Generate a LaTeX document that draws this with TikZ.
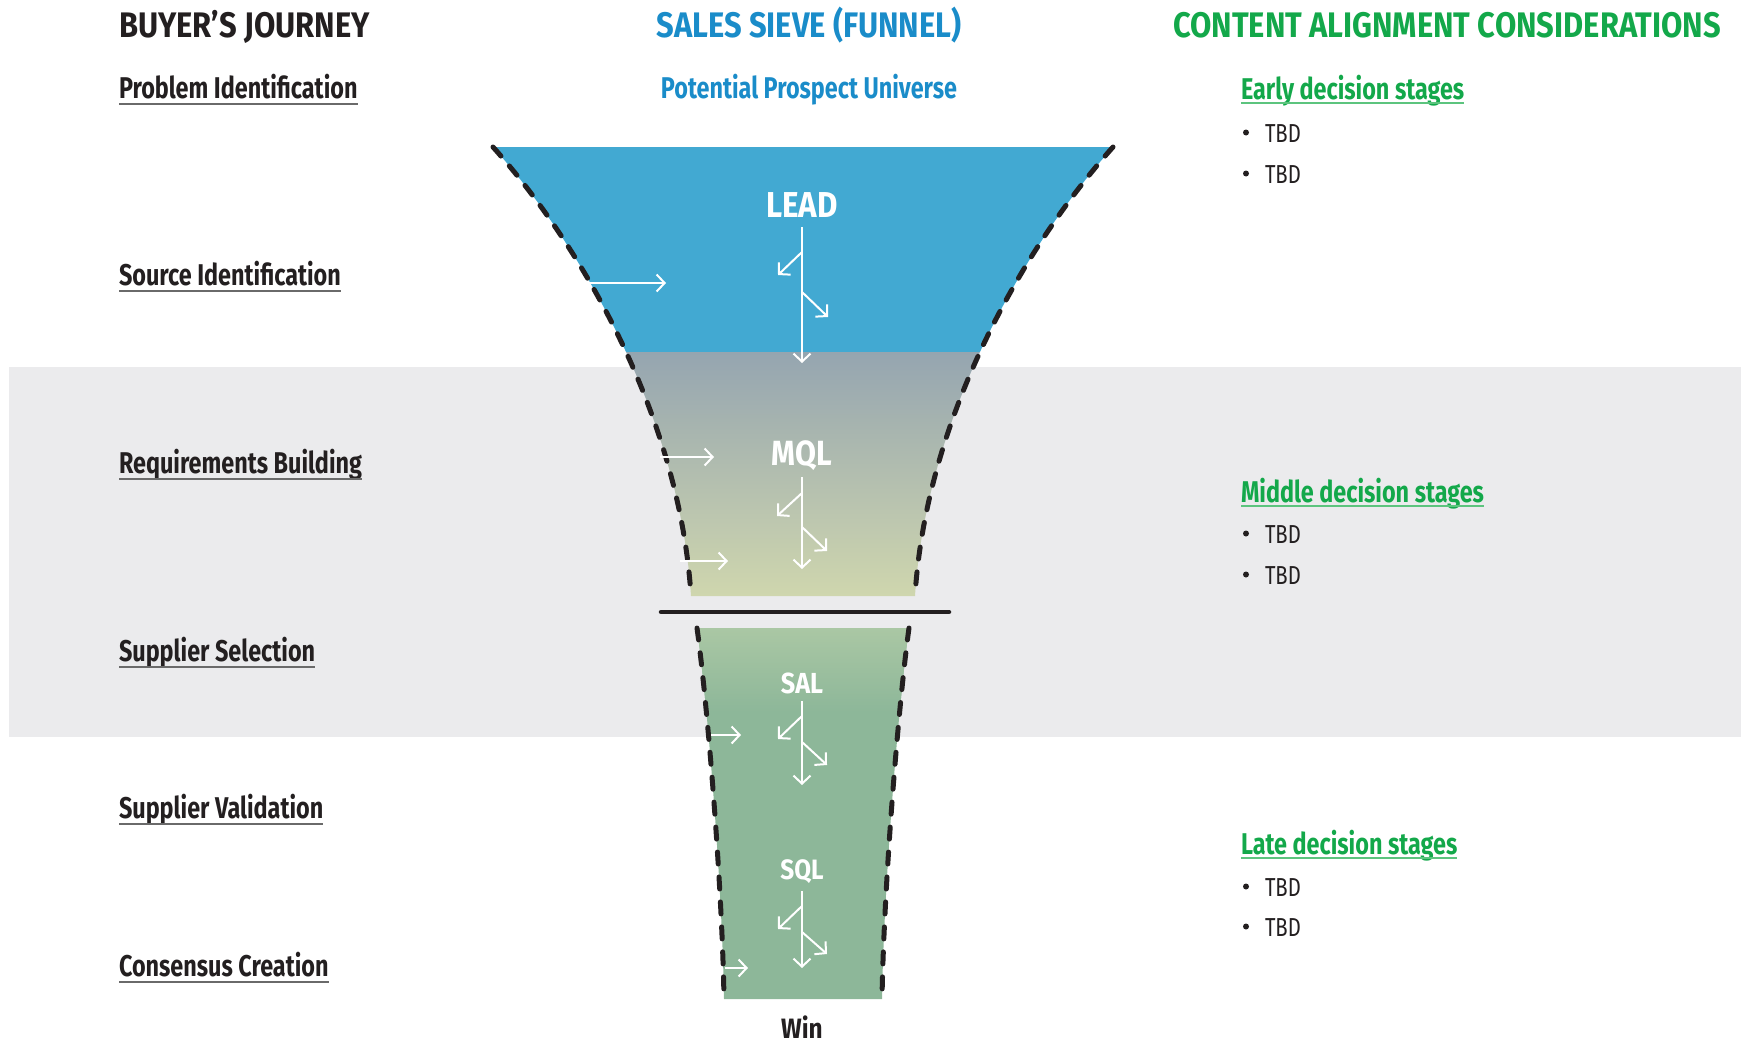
\documentclass[tikz,border=0pt]{standalone}
\usepackage{fontspec}
\setmainfont{Fira Sans}[FakeStretch=0.78]
\newfontfamily\headfamily{Fira Sans}[FakeStretch=0.87]
\usetikzlibrary{arrows.meta}
\definecolor{ink}{HTML}{231F20}
\definecolor{sieveblue}{HTML}{1A8CC9}
\definecolor{contentgreen}{HTML}{13A84A}
\definecolor{ulgreen}{HTML}{5CC47E}
\definecolor{ulgrey}{HTML}{6A6A6A}
\definecolor{leadblue}{HTML}{42A9D2}
\definecolor{mqltop}{HTML}{95A5B0}
\definecolor{mqlbot}{HTML}{D0D7AE}
\definecolor{saltop}{HTML}{AAC7A4}
\definecolor{salmain}{HTML}{8DB799}
\definecolor{band}{HTML}{EBEBED}

\begin{document}
\begin{tikzpicture}[x=1pt,y=-1pt,
  every node/.style={inner sep=0pt, outer sep=0pt},
  head/.style={font=\headfamily\fontsize{35.5}{40}\selectfont\bfseries},
  sub/.style={font=\fontsize{30}{34}\selectfont\bfseries},
  item/.style={anchor=base west, font=\fontsize{26}{30}\selectfont, text=ink},
  stage/.style={anchor=base, text=white},
  edge/.style={draw=ink, line width=5pt, line cap=round, dash pattern=on 12pt off 13pt},
  flow/.style={draw=white, line width=2pt, -{Straight Barb[length=8pt,width=17pt]}},
  ul/.style={line width=2pt}
]
\useasboundingbox (0,0) rectangle (1741,1042);

% grey band behind the middle stages
\fill[band] (9,367) rectangle (1741,737);

% ---------- upper funnel (LEAD / MQL) ----------
\coordinate (utl) at (493,147);
\coordinate (utr) at (1113,147);
\coordinate (ubl) at (691,596);
\coordinate (ubr) at (915,596);
\begin{scope}
  \clip (utl) .. controls (585,250) and (680,420) .. (ubl) -- (ubr)
        .. controls (926,420) and (1021,250) .. (utr) -- cycle;
  \fill[leadblue] (480,140) rectangle (1130,352);
  \shade[top color=mqltop, bottom color=mqlbot] (480,352) rectangle (1130,600);
\end{scope}
\draw[edge] (utl) .. controls (585,250) and (680,420) .. (ubl);
\draw[edge] (utr) .. controls (1021,250) and (926,420) .. (ubr);

% separating bar
\coordinate (barl) at (661,612);
\coordinate (barr) at (949,612);
\draw[ink, line width=4.5pt, line cap=round] (barl) -- (barr);

% ---------- lower funnel (SAL / SQL) ----------
\coordinate (ltl) at (697,628);
\coordinate (ltr) at (909,628);
\coordinate (lbl) at (724,999);
\coordinate (lbr) at (882,999);
\begin{scope}
  \clip (ltl) .. controls (707,700) and (722,880) .. (lbl) -- (lbr)
        .. controls (884,880) and (899,700) .. (ltr) -- cycle;
  \fill[salmain] (690,620) rectangle (920,1005);
  \shade[top color=saltop, bottom color=salmain] (690,628) rectangle (920,712);
\end{scope}
\draw[edge] (ltl) .. controls (707,700) and (722,880) .. (lbl);
\draw[edge] (ltr) .. controls (899,700) and (884,880) .. (lbr);

% ---------- stage labels ----------
\node[stage, font=\headfamily\fontsize{36}{40}\selectfont\bfseries] (lead) at (802,217) {LEAD};
\node[stage, font=\headfamily\fontsize{35}{40}\selectfont\bfseries] (mql) at (802,465) {MQL};
\node[stage, font=\headfamily\fontsize{29}{34}\selectfont\bfseries] (sal) at (802,693) {SAL};
\node[stage, font=\headfamily\fontsize{28}{34}\selectfont\bfseries] (sql) at (802,879) {SQL};
\node[anchor=base, text=ink, font=\headfamily\fontsize{28}{32}\selectfont\bfseries] (win) at (802,1038) {Win};

% ---------- flow arrows inside the funnel ----------
% LEAD
\coordinate (a1t) at (802,227); \coordinate (a1b) at (802,363);
\coordinate (a1l) at (802,252); \coordinate (a1le) at (778,275);
\coordinate (a1r) at (802,292); \coordinate (a1re) at (828,317);
\draw[flow] (a1t) -- (a1b);
\draw[flow] (a1l) -- (a1le);
\draw[flow] (a1r) -- (a1re);
% MQL
\coordinate (a2t) at (802,477); \coordinate (a2b) at (802,569);
\coordinate (a2l) at (802,493); \coordinate (a2le) at (777,516);
\coordinate (a2r) at (802,527); \coordinate (a2re) at (827,551);
\draw[flow] (a2t) -- (a2b);
\draw[flow] (a2l) -- (a2le);
\draw[flow] (a2r) -- (a2re);
% SAL
\coordinate (a3t) at (802,701); \coordinate (a3b) at (802,785);
\coordinate (a3l) at (802,716); \coordinate (a3le) at (778,739);
\coordinate (a3r) at (802,742); \coordinate (a3re) at (827,765);
\draw[flow] (a3t) -- (a3b);
\draw[flow] (a3l) -- (a3le);
\draw[flow] (a3r) -- (a3re);
% SQL
\coordinate (a4t) at (802,891); \coordinate (a4b) at (802,968);
\coordinate (a4l) at (802,906); \coordinate (a4le) at (778,929);
\coordinate (a4r) at (802,932); \coordinate (a4re) at (827,954);
\draw[flow] (a4t) -- (a4b);
\draw[flow] (a4l) -- (a4le);
\draw[flow] (a4r) -- (a4re);

% arrows entering from the funnel wall
\coordinate (in1) at (588,283); \coordinate (in1e) at (666,283);
\coordinate (in2) at (660,457); \coordinate (in2e) at (714,457);
\coordinate (in3) at (680,561); \coordinate (in3e) at (728,561);
\coordinate (in4) at (711,735); \coordinate (in4e) at (741,735);
\coordinate (in5) at (725,968); \coordinate (in5e) at (748,968);
\draw[flow] (in1) -- (in1e);
\draw[flow] (in2) -- (in2e);
\draw[flow] (in3) -- (in3e);
\draw[flow] (in4) -- (in4e);
\draw[flow] (in5) -- (in5e);

% ---------- column headers ----------
\node[head, anchor=base west, text=ink] (h1) at (119,37) {BUYER’S JOURNEY};
\node[head, anchor=base, text=sieveblue] (h2) at (809,37) {SALES SIEVE (FUNNEL)};
\node[head, anchor=base, text=contentgreen] (h3) at (1447,37) {CONTENT ALIGNMENT CONSIDERATIONS};

\node[sub, anchor=base, text=sieveblue] (ppu) at (809,98) {Potential Prospect Universe};

% ---------- buyer's journey steps ----------
\node[sub, anchor=base west, text=ink] (s1) at (119,98) {Problem Identification};
\node[sub, anchor=base west, text=ink] (s2) at (119,285.5) {Source Identification};
\node[sub, anchor=base west, text=ink] (s3) at (119,473) {Requirements Building};
\node[sub, anchor=base west, text=ink] (s4) at (119,661) {Supplier Selection};
\node[sub, anchor=base west, text=ink] (s5) at (119,818.5) {Supplier Validation};
\node[sub, anchor=base west, text=ink] (s6) at (119,976) {Consensus Creation};
\foreach \n in {s1,s2,s3,s4,s5,s6}
  \draw[ul, ulgrey] ([yshift=-5.5pt]\n.base west) -- ([yshift=-5.5pt]\n.base east);

% ---------- content alignment ----------
\node[sub, anchor=base west, text=contentgreen] (c1) at (1241,99) {Early decision stages};
\node[sub, anchor=base west, text=contentgreen] (c2) at (1241,502) {Middle decision stages};
\node[sub, anchor=base west, text=contentgreen] (c3) at (1241,854) {Late decision stages};
\foreach \n in {c1,c2,c3}
  \draw[ul, ulgreen] ([yshift=-4pt]\n.base west) -- ([yshift=-4pt]\n.base east);

\foreach \y [count=\i] in {142,183,543,584,896,936} {
  \fill[ink] (1246,\y-9.5) circle (3);
  \node[item] (t\i) at (1265,\y) {TBD};
}
\end{tikzpicture}
\end{document}
